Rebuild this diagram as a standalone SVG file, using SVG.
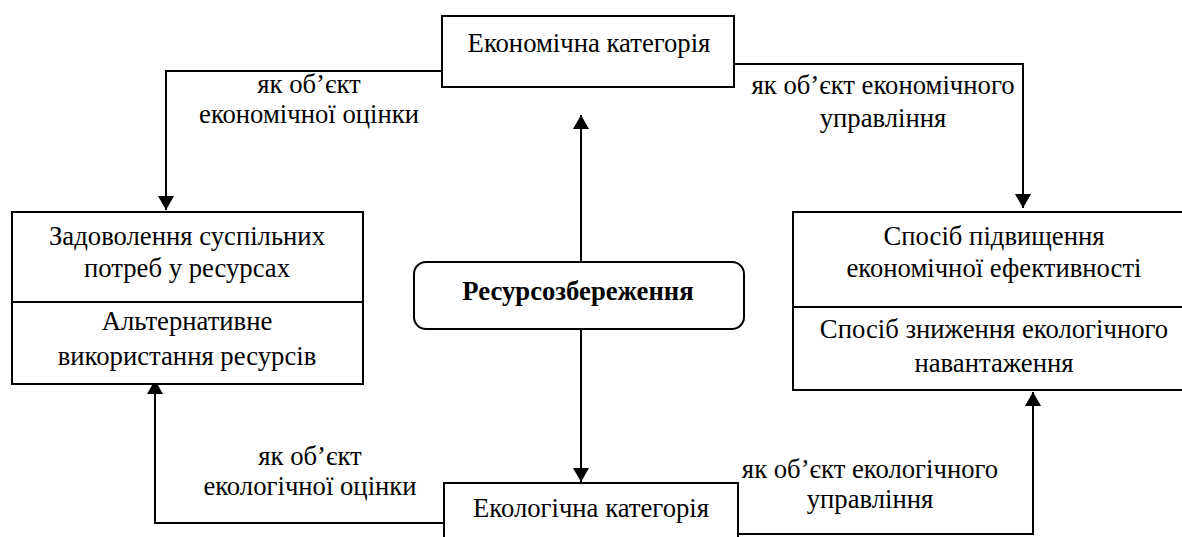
<svg xmlns="http://www.w3.org/2000/svg" width="1182" height="537" viewBox="0 0 1182 537">
<style>
.box{fill:#fff;stroke:#000;stroke-width:2}
.ln{fill:none;stroke:#000;stroke-width:2}
text{font-family:'Liberation Serif','Times New Roman','DejaVu Serif',serif;font-size:26.7px;fill:#000;text-anchor:middle}
.b{font-weight:bold}
</style>
<defs>
<marker id="ah" viewBox="0 0 14 16" refX="14" refY="8" markerWidth="14" markerHeight="16" markerUnits="userSpaceOnUse" orient="auto">
<path d="M0,0 L14,8 L0,16 Z" fill="#000"/>
</marker>
</defs>
<g id="connectors">
<polyline class="ln" points="442,71 166,71 166,210" marker-end="url(#ah)"/>
<polyline class="ln" points="734,64 1023,64 1023,208" marker-end="url(#ah)"/>
<polyline class="ln" points="444,523 155,523 155,380" marker-end="url(#ah)"/>
<polyline class="ln" points="738,534 1033,534 1033,392" marker-end="url(#ah)"/>
<line class="ln" x1="581" y1="262" x2="581" y2="115" marker-end="url(#ah)"/>
<line class="ln" x1="581" y1="329" x2="581" y2="482" marker-end="url(#ah)"/>
<text x="309" y="93">як об’єкт</text>
<text x="309" y="123">економічної оцінки</text>
<text x="883" y="94">як об’єкт економічного</text>
<text x="883" y="127">управління</text>
<text x="310" y="465">як об’єкт</text>
<text x="310" y="495">екологічної оцінки</text>
<text x="870" y="478">як об’єкт екологічного</text>
<text x="870" y="508">управління</text>
</g>
<g id="econ">
<rect class="box" x="442" y="16" width="292" height="71"/>
<text x="589" y="52">Економічна категорія</text>
</g>
<g id="left">
<rect class="box" x="12" y="212" width="351" height="172"/>
<line class="ln" x1="12" y1="302" x2="363" y2="302"/>
<text x="187" y="245">Задоволення суспільних</text>
<text x="187" y="277">потреб у ресурсах</text>
<text x="187" y="330">Альтернативне</text>
<text x="187" y="365">використання ресурсів</text>
</g>
<g id="right">
<rect class="box" x="793" y="212" width="402" height="178"/>
<line class="ln" x1="793" y1="307" x2="1195" y2="307"/>
<text x="994" y="245">Спосіб підвищення</text>
<text x="994" y="277">економічної ефективності</text>
<text x="994" y="338">Спосіб зниження екологічного</text>
<text x="994" y="372">навантаження</text>
</g>
<g id="center">
<rect class="box" x="414" y="262" width="330" height="67" rx="12"/>
<text class="b" x="578" y="300">Ресурсозбереження</text>
</g>
<g id="eco">
<rect class="box" x="444" y="483" width="294" height="70"/>
<text x="591" y="517">Екологічна категорія</text>
</g>
</svg>
